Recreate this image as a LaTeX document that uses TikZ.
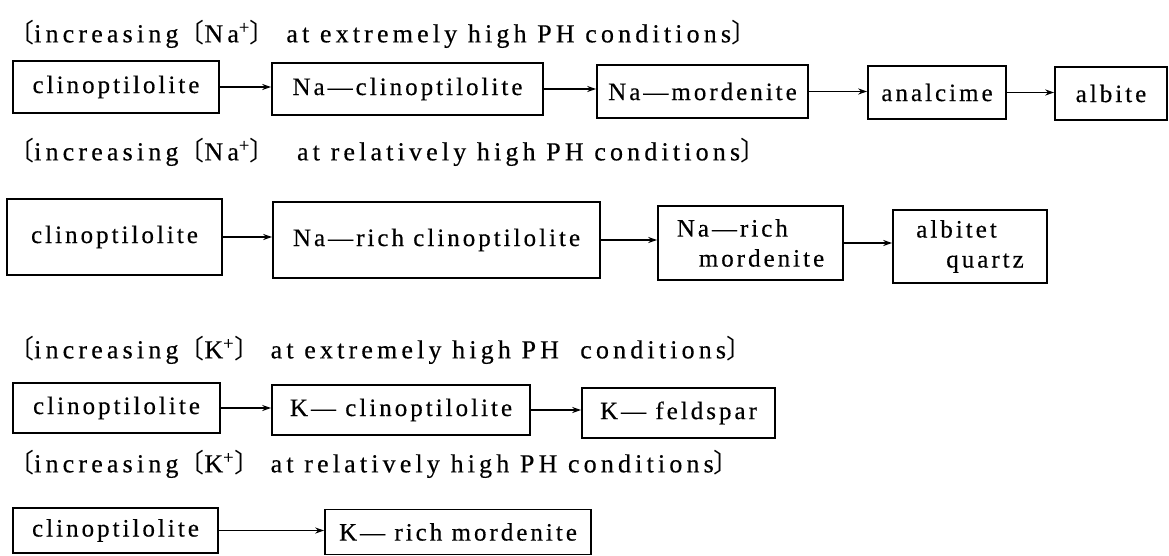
\documentclass[tikz,border=0pt]{standalone}
\usepackage{fontspec}
\setmainfont{Liberation Serif}[LetterSpace=12,FakeBold=0.4]
\newfontfamily\headfont{Liberation Serif}[LetterSpace=16,FakeBold=0.4]
\newfontfamily\cjk{Noto Sans CJK JP}
\usetikzlibrary{arrows.meta}
\newcommand\lbr{{\cjk 〔}}
\newcommand\rbr{{\cjk 〕}}
\newcommand\ionp[1]{#1\textsuperscript{+}}
\newcommand\figfont{\fontsize{25}{30}\selectfont}
\newcommand\headsize{\fontsize{26}{30}\selectfont}

\begin{document}
\begin{tikzpicture}[x=1pt,y=-1pt,
  every node/.style={font=\figfont},
  box/.style={draw,line width=1.6pt,inner sep=0pt},
  head/.style={anchor=west,inner sep=0pt,font=\headfont\headsize},
  flow/.style={line width=1.1pt,-{Stealth[length=9pt,width=6pt]}}]
  \useasboundingbox (0,0) rectangle (1169,556);
  % Na+ , extremely high PH
  \node[head] (h1) at (8,34) {\lbr increasing\lbr\ionp{Na}\rbr{} at extremely high PH conditions\rbr};
  \node[box,minimum width=206pt,minimum height=52pt] (c1) at (116,87) {clinoptilolite};
  \node[box,minimum width=271pt,minimum height=52pt] (n1) at (407.5,89) {Na—clinoptilolite};
  \node[box,minimum width=211pt,minimum height=53pt] (m1) at (702.5,91.5) {Na—mordenite};
  \node[box,minimum width=138pt,minimum height=53pt] (a1) at (937,92.5) {analcime};
  \node[box,minimum width=112pt,minimum height=53pt] (b1) at (1111,93.5) {albite};
  \draw[flow] (c1.east) -- (c1.east -| n1.west);
  \draw[flow] (n1.east) -- (n1.east -| m1.west);
  \draw[flow] (m1.east) -- (m1.east -| a1.west);
  \draw[flow] (a1.east) -- (a1.east -| b1.west);
  % Na+ , relatively high PH
  \node[head] (h2) at (8,152) {\lbr increasing\lbr\ionp{Na}\rbr{} \ at relatively high PH conditions\rbr};
  \node[box,minimum width=215pt,minimum height=76pt] (c2) at (114.5,237) {clinoptilolite};
  \node[box,minimum width=327pt,minimum height=76pt] (n2) at (436.5,240) {Na—rich clinoptilolite};
  \node[box,minimum width=185pt,minimum height=74pt,align=left] (m2) at (750.5,243)
    {Na—rich\\\hspace*{22pt}mordenite};
  \node[box,minimum width=154pt,minimum height=73pt,align=left] (q2) at (970,246.5)
    {albitet\\\hspace*{30pt}quartz};
  \draw[flow] (c2.east) -- (c2.east -| n2.west);
  \draw[flow] (n2.east) -- (n2.east -| m2.west);
  \draw[flow] (m2.east) -- (m2.east -| q2.west);
  % K+ , extremely high PH
  \node[head] (h3) at (8,350) {\lbr increasing\lbr\ionp{K}\rbr{} at extremely high PH \ conditions\rbr};
  \node[box,minimum width=207pt,minimum height=50pt] (c3) at (116.5,408) {clinoptilolite};
  \node[box,minimum width=258pt,minimum height=50pt] (k3) at (401,410) {K— clinoptilolite};
  \node[box,minimum width=193pt,minimum height=50pt] (f3) at (678.5,413) {K— feldspar};
  \draw[flow] (c3.east) -- (c3.east -| k3.west);
  \draw[flow] (k3.east) -- (k3.east -| f3.west);
  % K+ , relatively high PH
  \node[head] (h4) at (8,464) {\lbr increasing\lbr\ionp{K}\rbr{} at relatively high PH conditions\rbr};
  \node[box,minimum width=205pt,minimum height=45pt] (c4) at (115.5,530.5) {clinoptilolite};
  \node[box,minimum width=266pt,minimum height=45pt] (r4) at (458,532) {K— rich mordenite};
  \draw[flow] (c4.east) -- (c4.east -| r4.west);
\end{tikzpicture}
\end{document}
